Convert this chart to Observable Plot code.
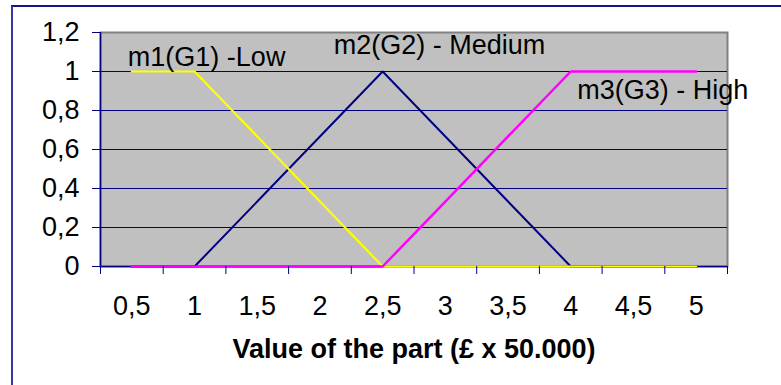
<!DOCTYPE html>
<html>
<head>
<meta charset="utf-8">
<script src="https://cdn.jsdelivr.net/npm/d3@7"></script>
<script src="https://cdn.jsdelivr.net/npm/@observablehq/plot@0.6"></script>
<style>
  html, body { margin: 0; padding: 0; background: #fff; overflow: hidden; }
  #wrap { position: relative; width: 781px; height: 385px; }
  #border { position: absolute; left: 11px; top: 5px; width: 800px; height: 400px;
            border-top: 2px solid #141489; border-left: 2px solid #3636a6; pointer-events: none; }
</style>
</head>
<body>
<div id="wrap"><div id="border"></div></div>
<script>
// Categories (x values, £ x 50.000)
const categories = [0.5, 1, 1.5, 2, 2.5, 3, 3.5, 4, 4.5, 5];
// Membership series
const m1 = [1, 1, 0.667, 0.333, 0, 0, 0, 0, 0, 0];       // Low
const m2 = [0, 0, 0.333, 0.667, 1, 0.667, 0.333, 0, 0, 0]; // Medium
const m3 = [0, 0, 0, 0, 0, 0.333, 0.667, 1, 1, 1];       // High
// Tick values
const yTicks = [0, 0.2, 0.4, 0.6, 0.8, 1, 1.2];
const yGrid = [0.2, 0.4, 0.6, 0.8, 1];
const xTickLabels = categories;
const xTickMarks = [0.25, 0.75, 1.25, 1.75, 2.25, 2.75, 3.25, 3.75, 4.25, 4.75, 5.25];
// Series labels and their anchor points
const labelText = ["m1(G1) -Low", "m2(G2) - Medium", "m3(G3) - High"];
const labelX = [0.5, 2.5, 4];
const labelY = [1, 1, 1];
const xTitle = "Value of the part (£ x 50.000)";

const rows = categories.map((c, i) => ({x: c, m1: m1[i], m2: m2[i], m3: m3[i]}));
const labels = labelText.map((t, i) => ({text: t, x: labelX[i], y: labelY[i]}));
const comma = d => String(d).replace(".", ",");
const navy = "#000080";
const fs = 27;

const chart = Plot.plot({
  width: 781,
  height: 385,
  marginLeft: 100,
  marginRight: 54,
  marginTop: 32,
  marginBottom: 119,
  style: {fontFamily: "'Liberation Sans', Arial, sans-serif", fontSize: fs + "px", background: "transparent", color: "#000"},
  x: {type: "linear", domain: [xTickMarks[0], xTickMarks[xTickMarks.length - 1]], axis: null},
  y: {domain: [0, 1.2], axis: null},
  marks: [
    Plot.frame({fill: "#c0c0c0", stroke: "#808080", strokeWidth: 2}),
    Plot.gridY(yGrid, {stroke: navy, strokeOpacity: 1, strokeWidth: 1}),
    Plot.ruleY([0], {stroke: navy, strokeWidth: 1.5}),
    Plot.ruleX([xTickMarks[0]], {stroke: navy, strokeWidth: 1.5}),
    Plot.line(rows, {x: "x", y: "m2", stroke: navy, strokeWidth: 2}),
    Plot.line(rows, {x: "x", y: "m1", stroke: "#ffff00", strokeWidth: 2.2}),
    Plot.line(rows, {x: "x", y: "m3", stroke: "#ff00ff", strokeWidth: 2.5}),
    Plot.axisY(yTicks, {anchor: "left", tickSize: 8, tickPadding: 13, tickFormat: comma, stroke: navy, fill: "#000", fontSize: fs, label: null}),
    Plot.axisX(xTickMarks, {anchor: "bottom", tickSize: 8, tickFormat: () => "", stroke: navy, label: null}),
    Plot.axisX(xTickLabels, {anchor: "bottom", tickSize: 0, tickPadding: 29, tickFormat: comma, fill: "#000", fontSize: fs, label: null}),
    Plot.text(labels.slice(0, 1), {x: "x", y: "y", text: "text", textAnchor: "start", dx: -4, dy: -14, fill: "#000", fontSize: fs}),
    Plot.text(labels.slice(1, 2), {x: "x", y: "y", text: "text", textAnchor: "start", dx: -49, dy: -26, fill: "#000", fontSize: fs}),
    Plot.text(labels.slice(2, 3), {x: "x", y: "y", text: "text", textAnchor: "start", dx: 6.5, dy: 18.5, fill: "#000", fontSize: fs}),
    Plot.text([xTitle], {frameAnchor: "bottom", dy: 91, fontWeight: "bold", fill: "#000", fontSize: fs})
  ]
});
document.getElementById("wrap").prepend(chart);
</script>
</body>
</html>
